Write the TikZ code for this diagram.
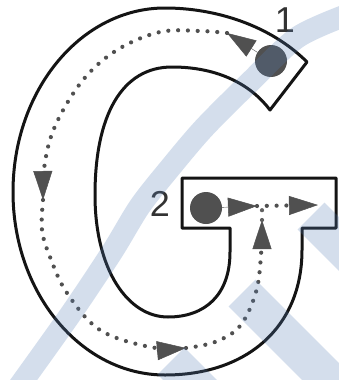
\documentclass[tikz,border=0pt]{standalone}
\usepackage{fontspec}
\setmainfont{Liberation Sans}
\usetikzlibrary{arrows.meta}
\definecolor{wmark}{RGB}{84,126,183}
\definecolor{ink}{RGB}{80,80,80}

\begin{document}
\begin{tikzpicture}[x=1pt,y=-1pt]
    \tikzset{
        outline/.style={line width=3pt,line join=round,black!92},
        trail/.style={line width=4.2pt,line cap=round,
            dash pattern=on 0pt off 9.8pt,ink!90},
        tipped/.style={-{Triangle[length=29pt,width=19pt,line width=.5pt]},ink},
        dot/.style={circle,fill=ink,inner sep=0pt,minimum size=32pt},
        num/.style={inner sep=0pt,font=\fontsize{36}{36}\selectfont,black!80},
        band/.style={wmark,opacity=.25,line cap=butt}
    }
    \fill[white] (0,0) rectangle (339,380);
    \useasboundingbox (0,0) rectangle (339,380);

    % letter G
    \draw[outline] (307,62) .. controls (270,25) and (215,8) .. (165,8)
        .. controls (81,8) and (13,90) .. (13,192)
        .. controls (13,293) and (81,375) .. (165,375)
        .. controls (247,375) and (302,327) .. (302,250)
        -- (302,228) -- (336,228) -- (336,178) -- (182,178) -- (182,228)
        -- (230,228) -- (230,252)
        .. controls (230,295) and (205,317) .. (168,317)
        .. controls (128,317) and (95,270) .. (95,195)
        .. controls (95,115) and (122,67) .. (172,67)
        .. controls (220,67) and (252,86) .. (270,110) -- cycle;

    \node[dot] (dotone) at (271,61) {};
    \node[dot] (dottwo) at (206,208) {};
    \node[num] (lblone) at (285,20) {1};
    \node[num] (lbltwo) at (160,204) {2};

    \coordinate (tipone) at (227,33);
    \coordinate (tipleft) at (43,200);
    \coordinate (tipbottom) at (186,348);
    \coordinate (tipup) at (262,220);
    \coordinate (junction) at (262,206);
    \coordinate (tiptwo) at (257,206);
    \coordinate (tipright) at (318,205);

    % stroke 1
    \draw[tipped] (dotone) -- (tipone);
    \draw[trail,tipped] plot[smooth,tension=.6] coordinates {(tipone) (200,31)
        (160,32) (117,50) (83,80) (56,124) (45,162) (tipleft)};
    \draw[trail,tipped] plot[smooth,tension=.6] coordinates {(tipleft) (42,230)
        (50,257) (67,293) (100,330) (150,347) (tipbottom)};
    \draw[trail,tipped] plot[smooth,tension=.6] coordinates {(tipbottom)
        (215,342) (240,326) (256,292) (261,255) (tipup)};
    \draw[trail] (tipup) -- (junction);

    % stroke 2
    \draw[tipped] (dottwo) -- (tiptwo);
    \draw[trail,tipped] (tiptwo) -- (tipright);

    % watermark
    \draw[band,line width=22pt] plot[smooth] coordinates {(352,13) (298,37)
        (250,82) (204,128) (170,168) (140,206) (112,252) (70,315) (15,392)};
    \foreach \ex/\ey in {171/361,242/293,311/216}
        \draw[band,line width=38pt] (\ex,\ey) -- ++(160,160);
\end{tikzpicture}
\end{document}
